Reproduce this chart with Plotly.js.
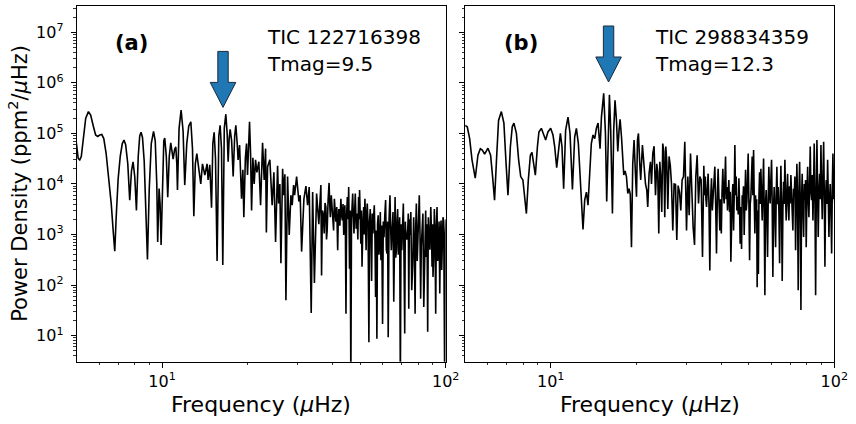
<!DOCTYPE html>
<html>
<head>
<meta charset="utf-8">
<script src="https://cdn.plot.ly/plotly-3.0.1.min.js"></script>
<style>html,body{margin:0;padding:0;background:#fff;}#chart{width:856px;height:424px;}</style>
</head>
<body>
<div id="chart"></div>
<script>
// ---- Panel (a): TIC 122716398 ----
const freqA = [4.92,4.99,5.06,5.125,5.19,5.29,5.38,5.50,5.60,5.72,5.83,5.93,6.03,6.13,6.23,6.35,6.48,6.62,6.73,6.81,6.89,7.00,7.12,7.24,7.34,7.44,7.57,7.69,7.80,7.90,8.01,8.12,8.24,8.34,8.43,8.53,8.65,8.78,8.88,9.01,9.16,9.33,9.46,9.58,9.65,9.76,9.84,9.92,10.04,10.14,10.22,10.35,10.47,10.60,10.73,10.85,10.94,11.07,11.18,11.27,11.33,11.48,11.67,11.86,12.02,12.22,12.42,12.63,12.80,12.94,13.10,13.26,13.47,13.69,13.88,14.15,14.41,14.53,14.73,14.94,15.10,15.26,15.43,15.63,15.85,16.02,16.20,16.37,16.57,16.78,16.96,17.10,17.24,17.38,17.59,17.81,18.03,18.20,18.40,18.54,18.76,19.06,19.27,19.42,19.66,19.85,20.01,20.18,20.34,20.51,20.68,20.90,21.12,21.36,21.59,21.94,22.25,22.61,22.91,23.17,23.32,23.55,23.99,24.44,24.79,25.13,25.54,25.75,26.02,26.24,26.61,26.82,27.10,27.33,27.70,28.07,28.46,28.76,29.09,29.33,29.81,30.37,30.69,31.04,31.63,32.15,32.59,33.02,33.56,33.95,34.44,
35.06,35.4,35.7,36.0,36.3,36.5,36.75,37.0,37.3,37.55,37.8,38.0,38.2,38.5,38.8,39.0,39.2,39.5,39.8,40.0,40.25,40.5,40.75,41.0,41.3,41.6,41.8,42.0,42.35,42.7,42.95,43.2,43.45,43.7,43.9,44.1,44.3,44.5,44.75,45.0,45.25,45.5,45.65,45.8,46.05,46.3,46.55,47.0,47.25,47.5,47.75,48.0,48.35,48.7,49.0,49.3,49.5,49.7,49.95,50.2,50.45,50.7,51.05,51.4,51.65,51.9,52.15,52.4,52.65,52.9,53.25,53.6,53.9,54.2,54.5,54.8,55.1,55.4,55.7,56.0,56.3,56.6,56.9,57.2,57.5,57.8,58.15,58.5,58.8,59.1,59.5,59.9,60.25,60.6,61.0,61.4,61.75,62.1,62.4,62.7,63.15,63.6,63.95,64.3,64.55,64.8,65.2,65.6,65.95,66.3,66.65,67.0,67.35,67.7,68.05,68.4,68.8,69.2,69.6,70.0,70.45,70.9,71.3,71.7,72.05,72.4,72.95,73.5,73.8,74.1,74.45,74.8,75.35,75.9,76.5,77.1,77.55,78.0,78.4,78.8,79.35,79.9,80.3,80.7,81.15,81.6,82.05,82.5,83.1,83.7,84.15,84.6,85.0,85.4,85.9,86.4,86.85,87.3,87.95,88.6,89.05,89.5,89.85,90.2,90.7,91.2,91.7,92.2,92.7,93.2,93.7,94.2,94.75,95.3,95.8,96.3,96.8,97.3,97.85,98.4,98.8,99.2,99.7,100.3];
const powerA = [8.9e4,6.3e4,3.2e4,3.0e4,3.5e4,1.0e5,2.0e5,2.7e5,2.3e5,1.4e5,9.3e4,8.7e4,9.3e4,9.5e4,7.9e4,4.0e4,1.4e4,4.0e3,1.1e3,4.7e2,2.2e3,1.26e4,3.5e4,6.3e4,7.4e4,6.0e4,2.5e4,4.8e3,1.8e4,2.75e4,1.4e4,3.0e3,3.5e4,8.9e4,1.05e5,8.3e4,2.8e4,3.2e3,3.2e2,7.9e3,6.3e4,1.1e5,7.1e4,1.0e4,7.1e2,8.1e3,4.0e3,6.2e2,2.2e4,7.1e4,8.1e4,3.5e4,5.5e3,3.5e4,6.5e4,4.5e4,3.1e4,4.8e4,5.4e4,2.5e4,7.6e3,1.26e5,2.9e5,1.12e5,9.5e3,6.3e4,1.4e5,1.7e5,5.0e4,2.3e3,2.5e4,4.0e4,2.2e4,1.0e4,2.5e4,1.5e4,2.5e4,1.2e4,2.4e4,3.4e3,6.3e4,1.05e5,3.2e4,3.0e2,8.9e4,1.45e5,5.0e4,2.5e2,1.26e5,2.4e5,1.0e5,2.75e4,7.9e4,1.2e5,7.1e4,1.4e4,8.9e4,1.45e5,6.3e4,3.0e4,5.9e4,5.1e3,1.9e4,2.2e3,3.2e4,6.3e4,1.5e4,8.9e4,1.7e5,4.0e4,3.0e3,3.3e4,1.0e4,3.0e4,1.7e4,2.75e4,3.8e3,6.5e4,1.2e4,5.0e4,1.1e3,2.2e4,3.0e4,3.8e3,1.7e4,7.1e2,2.3e4,4.1e3,1.0e4,2.7e2,2.0e4,6.0e3,1.55e4,50,1.4e4,9.8e2,6.0e3,3.8e3,9.5e3,6.0e3,1.4e4,4.5e3,6.0e3,4.6e2,5.1e3,9.1e3,3.8e3,8.7e3,28,6.9e3,1.1e2,
6.5e3,2.5e3,1.6e3,4.0e3,9.5e3,1.55e2,3.0e3,2.6e3,1.05e3,4.2e3,3.5e3,8e2,1.2e3,5e3,1.05e4,4.0e3,2.2e3,6e3,3.2e3,2.2e3,1.2e3,5.1e3,2.8e3,1.8e3,3.5e3,4.9e2,2.0e3,3.2e3,1.5e3,5.1e3,2.4e3,1.9e3,4.0e3,9.8e2,2.2e3,3.8e3,1.2e3,27,2.5e3,5.5e3,2.0e3,8.7e3,1.5e3,2.1e2,3.0e3,1,2.0e3,6.5e3,2.2e3,1.05e3,3.0e3,6.5e3,1.3e3,2.6e3,8e2,5.5e3,2.0e3,7.6e3,2.5e3,6.6e2,3.0e3,2.3e2,1.6e3,3.5e3,1.0e3,5.1e3,2.0e3,4.9e2,2.5e3,4.1e3,1.5e3,7.4,1.8e3,3.2e3,1.1e3,1.2e2,2.6e3,1.05e3,2.2e3,3.8e3,9e2,58,1.2e3,8.7,1.6e3,2.4e3,4e2,6.6e2,2.8e3,3.1e2,1.5e3,17,1.8e3,8.9e2,2.4e3,4.8e3,5e2,4.2e2,1.8e3,9.3,2.0e3,6.0e3,1.4e3,4.9e2,9e2,1.4e3,2.8e3,47,2.0e3,5.5e3,3.5e2,4.9e2,1.9e3,3.2e3,4e2,8.9e2,2.2e3,1,1.6e3,4.9e2,2.2e3,4.1e3,3e2,11,1.8e3,8.9e2,8e2,1.3e3,2.6e3,34,2.0e3,9.8e2,2.8e3,79,2.5e2,2.2e3,6e2,27,1.4e3,4.1e3,3e2,8.9e2,2.4e3,6.0e3,1.1e3,54,6e2,1.05e3,2.6e3,37,3e2,1.5e3,3.0e3,3.6e2,1.6e3,12,2.2e3,1.05e3,5e2,3.5e3,1.2e3,2.3e2,1.6e3,1.45e2,4e2,3.2e3,9e2,27,1.5e3,3.5e3,3e2,4.9e2,1.8e3,68,1.0e3,1.9e3,2e2,7.8e2,2.2e3,1.8e3,3e2,1,1.0e3,2.0e3];

// ---- Panel (b): TIC 298834359 ----
const freqB = [4.89,4.97,5.08,5.18,5.28,5.42,5.54,5.65,5.74,5.85,6.01,6.14,6.24,6.34,6.45,6.55,6.70,6.84,6.96,7.07,7.21,7.32,7.42,7.57,7.71,7.84,7.98,8.09,8.21,8.34,8.48,8.59,8.71,8.83,8.98,9.09,9.27,9.45,9.60,9.78,10.0,10.19,10.33,10.50,10.67,10.82,10.96,11.11,11.29,11.51,11.70,11.93,12.15,12.32,12.52,12.73,13.00,13.18,13.37,13.54,13.72,13.91,14.10,14.30,14.49,14.69,14.93,15.10,15.38,15.60,15.76,15.93,16.11,16.28,16.51,16.68,16.86,17.06,17.24,17.42,17.57,17.77,17.91,18.10,18.29,18.50,18.70,18.89,19.08,19.27,19.47,19.68,19.90,20.07,20.23,20.39,20.61,20.77,21.06,21.29,21.59,21.82,21.99,22.23,22.48,22.67,22.91,23.15,23.42,23.66,23.85,24.05,24.25,24.44,24.64,24.84,25.05,25.25,25.46,25.67,25.88,26.15,26.41,26.67,26.95,27.24,27.55,27.84,28.14,28.46,28.76,29.07,29.40,29.71,30.13,30.45,30.78,31.12,31.45,31.79,32.15,32.49,32.84,33.21,33.56,33.92,34.30,
34.67,34.88,35.09,35.27,35.44,35.67,35.90,36.15,36.40,36.65,36.90,37.15,37.39,37.65,37.91,38.17,38.43,38.7,38.94,39.2,39.48,39.72,39.96,40.2,40.46,40.68,40.89,41.12,41.36,41.58,41.80,42.02,42.24,42.48,42.72,42.95,43.18,43.4,43.64,43.9,44.14,44.38,44.61,44.85,45.08,45.34,45.60,45.85,46.09,46.33,46.56,46.83,47.10,47.35,47.60,47.85,48.11,48.4,48.66,48.92,49.18,49.44,49.70,49.98,50.27,50.53,50.80,51.07,51.34,51.63,51.93,52.2,52.48,52.76,53.04,53.25,53.46,53.72,53.99,54.25,54.52,54.8,55.10,55.4,55.69,56.0,56.32,56.6,56.91,57.2,57.52,57.85,58.17,58.48,58.79,59.1,59.41,59.75,60.09,60.4,60.73,61.05,61.38,61.73,62.09,62.4,62.74,63.07,63.41,63.78,64.14,64.48,64.82,65.16,65.51,65.88,66.25,66.6,66.96,67.3,67.67,68.05,68.44,68.8,69.17,69.53,69.90,70.3,70.70,71.07,71.45,71.83,72.21,72.62,73.03,73.42,73.81,74.2,74.60,75.03,75.46,75.86,76.26,76.66,77.06,77.5,77.95,78.37,78.78,79.2,79.61,80.07,80.53,80.95,81.38,81.8,82.25,82.7,83.18,83.6,84.07,84.5,84.96,85.45,85.93,86.4,86.85,87.3,87.77,88.27,88.77,89.25,89.72,90.2,90.67,91.2,91.71,92.2,92.67,93.15,93.65,94.2,94.73,95.23,95.74,96.24,96.74,97.3,97.86,98.38,98.90,99.42,99.95,100.9];
const powerB = [1.4e5,1.45e5,1.35e5,7.9e4,3.0e4,1.3e4,3.7e4,5.0e4,4.7e4,3.9e4,5.1e4,3.7e4,1.4e4,4.8e3,3.5e4,1.8e5,2.7e5,1.6e5,2.6e4,6.0e3,5.5e4,1.35e5,1.6e5,1.0e5,3.0e4,1.4e4,1.2e4,6.5e3,2.6e3,1.2e4,3.7e4,4.2e4,2.5e4,1.5e4,5.5e4,1.07e5,1.26e5,9.3e4,7.4e4,1.07e5,1.26e5,9.3e4,5.5e4,2.1e4,5.5e4,1.0e5,5.5e4,8.1e3,1.15e5,2.1e5,1.0e5,7.8e3,8.5e4,1.26e5,6.3e4,1.2e4,1.26e3,4.8e3,6.9e3,3.8e3,1.6e4,6.3e4,9.3e4,7.9e4,1.26e5,1.6e5,5.0e4,2.1e5,6.2e5,1.0e5,4.5e3,1.15e5,5.8e5,1.15e5,2.6e3,1.15e5,4.5e5,1.8e5,4.4e4,1.15e5,1.9e5,8.5e4,3.0e4,1.5e4,1.8e4,1.4e4,6.5e3,8.1e3,6.3e3,5.6e2,2.5e4,7.4e4,1.6e4,5.6e3,7.4e4,1.0e5,2.5e4,1.2e4,5.9e4,2.2e4,1.0e4,7.6e3,3.5e3,1.6e4,2.75e4,1.0e4,4.0e4,5.6e4,6.0e3,2.5e4,1.7e4,1.05e3,2.75e4,1.4e4,2.8e3,6.3e4,4.4e4,2.2e3,5.5e4,2.75e4,3.2e3,3.5e4,2.3e4,1.0e4,1.2e3,1.0e4,9.8e3,7.8e2,9.3e3,6.9e3,3.0e3,1.2e4,1.4e4,6.8e4,1.2e3,1.4e4,2.4e3,4.0e4,4.8e3,1.4e3,6.2e2,1.4e4,3.7e4,4.1e3,1.4e4,1.2e4,3.6e2,
2.3e4,6e3,1.4e4,5e3,3.5e3,8e3,1.6e4,4e3,1.95e2,5e3,1.3e4,3e3,5.6e3,9e3,2.2e4,4e3,4.2e2,6e3,2.0e4,5e3,1.2e3,5e3,1.05e3,7e3,2.0e4,6e3,4.1e3,1.1e4,3.5e4,5e3,8.7e3,3e3,7.6e3,1.2e4,2.8e3,7e3,2.9e2,4e3,5.6e3,1.0e4,1.2e3,6e3,5.9e4,6e3,1.4e4,3e3,5.6e3,2.5e3,1.3e4,4e3,6.6e2,3.5e3,5.2e2,6e3,4.1e3,9e3,9.8e2,5e3,1.9e4,3e3,4.5e3,1.2e4,4.0e4,5e3,3.1e2,4e3,5.6e3,1.4e4,3.5e4,6e3,4.7e4,5e3,1.05e3,6e3,1.9e3,5e3,91,3e3,1.66e2,6e3,1.7e4,4e3,2.0e4,6e3,1.9e3,8e3,3.2e4,3e3,63,4e3,7.6e3,2.2e3,3.6e2,5e3,2.2e4,6e3,4.1e3,1.2e4,3.0e4,4e3,1.45e2,3e3,8.7e3,2.5e3,5.6e2,6e3,2.2e4,4e3,8.7e3,3e3,2.7e2,5e3,2.3e4,4e3,1.2e2,3e3,1.1e4,4e3,3.0e4,6e3,1.9e3,7e3,1.6e4,4e3,1.9e3,9e3,4.1e3,1.5e4,7.6e3,2.5e3,1.2e3,8e3,5.6e3,1.4e4,4.9e2,5e3,2.5e4,5e3,79,6e3,2.75e4,4e3,32,5e3,1.6e4,3e3,8.9e2,1.0e4,4.8e3,1.2e4,5.6e2,6e3,2.2e4,5e3,2.2e3,9e3,5.5e4,7e3,4.8e3,1.5e4,1.9e3,8e3,6.3e4,5e3,63,6e3,7.4e4,8e3,8.9e2,7e3,1.6e4,5e3,5.9e4,8e3,2.0e3,1.2e4,6.8e4,6e3,2.3e2,5e3,1.2e4,4e3,3.0e4,6e3,8.9e2,5e3,1.0e4,3e3,4.2e2,8e3,4.0e4,5e3,8.7e3,1.6e3];

// ---- Texts / ticks ----
const panelLabels = ['(a)', '(b)'];
const ticNames = ['TIC 122716398', 'TIC 298834359'];
const tmagTexts = ['Tmag=9.5', 'Tmag=12.3'];
const xTickVals = [10, 100];
const xTickText = ['10<sup>1</sup>', '10<sup>2</sup>'];
const yTickVals = [10, 100, 1e3, 1e4, 1e5, 1e6, 1e7];
const yTickText = ['10<sup>1</sup>','10<sup>2</sup>','10<sup>3</sup>','10<sup>4</sup>','10<sup>5</sup>','10<sup>6</sup>','10<sup>7</sup>'];
const xMinorVals = [6,7,8,9,20,30,40,50,60,70,80,90];
const yMinorVals = [];
for (let e = 0; e <= 7; e++) for (let m = 2; m <= 9; m++) yMinorVals.push(m * Math.pow(10, e));
const arrowFreq = [16.4, 16.0];
const arrowTip = [3.27e5, 1.04e6];

// ---- Geometry ----
const W = 856, H = 424;
const xDomA = [76.7 / W, 445.7 / W];
const xDomB = [465.3 / W, 834.3 / W];
const yDom = [1 - 361.7 / H, 1 - 6 / H];
const xRange = [Math.log10(5), 2];
const yRange = [0.485, 7.52];
const FONT = 'DejaVu Sans, sans-serif';

function xAxis(dom, anchor) {
  return {
    type: 'log', domain: dom, range: xRange, anchor: anchor,
    showline: true, mirror: true, linecolor: 'black', linewidth: 1,
    showgrid: false, zeroline: false,
    ticks: 'outside', ticklen: 5, tickwidth: 1, tickcolor: 'black',
    tickmode: 'array', tickvals: xTickVals, ticktext: xTickText,
    tickfont: {family: FONT, size: 16, color: 'black'},
    minor: {tickmode: 'array', tickvals: xMinorVals, ticks: 'outside', ticklen: 2.5, tickwidth: 0.8, tickcolor: 'black', showgrid: false}
  };
}
function yAxis(anchor, labels) {
  return {
    type: 'log', domain: yDom, range: yRange, anchor: anchor,
    showline: true, mirror: true, linecolor: 'black', linewidth: 1,
    showgrid: false, zeroline: false,
    ticks: 'outside', ticklen: 5, tickwidth: 1, tickcolor: 'black',
    tickmode: 'array', tickvals: yTickVals, ticktext: yTickText,
    showticklabels: labels, ticklabelstandoff: 4,
    tickfont: {family: FONT, size: 16, color: 'black'},
    minor: {tickmode: 'array', tickvals: yMinorVals, ticks: 'outside', ticklen: 2.5, tickwidth: 0.8, tickcolor: 'black', showgrid: false}
  };
}

function toPaper(dom, f, p) {
  const xp = dom[0] + (Math.log10(f) - xRange[0]) / (xRange[1] - xRange[0]) * (dom[1] - dom[0]);
  const yp = yDom[0] + (Math.log10(p) - yRange[0]) / (yRange[1] - yRange[0]) * (yDom[1] - yDom[0]);
  return [xp, yp];
}
function arrowPath(dom, f, p) {
  const [x, y] = toPaper(dom, f, p);
  const bw = 5.2 / W, hw = 12.8 / W;
  const base = y + 25 / H, top = y + 56 / H;
  return `M ${x - bw},${top} L ${x + bw},${top} L ${x + bw},${base} L ${x + hw},${base} L ${x},${y} L ${x - hw},${base} L ${x - bw},${base} Z`;
}

const traces = [
  {x: freqA, y: powerA, xaxis: 'x', yaxis: 'y', type: 'scatter', mode: 'lines', line: {color: 'black', width: 1.6}, hoverinfo: 'skip'},
  {x: freqB, y: powerB, xaxis: 'x2', yaxis: 'y2', type: 'scatter', mode: 'lines', line: {color: 'black', width: 1.6}, hoverinfo: 'skip'}
];

const doms = [xDomA, xDomB];
const annotations = [];
doms.forEach((d, i) => {
  const x0 = d[0];
  annotations.push({xref: 'paper', yref: 'paper', x: x0 + (i === 0 ? 54.5 : 55.5) / W, y: 1 - 43 / H, text: '<b>' + panelLabels[i] + '</b>', showarrow: false, xanchor: 'center', yanchor: 'middle', font: {family: FONT, size: 21, color: 'black'}});
  annotations.push({xref: 'paper', yref: 'paper', x: x0 + 188 / W, y: 1 - 37 / H, text: ticNames[i], showarrow: false, xanchor: 'left', yanchor: 'middle', font: {family: FONT, size: 20, color: 'black'}});
  annotations.push({xref: 'paper', yref: 'paper', x: x0 + 188 / W, y: 1 - 64 / H, text: tmagTexts[i], showarrow: false, xanchor: 'left', yanchor: 'middle', font: {family: FONT, size: 20, color: 'black'}});
  annotations.push({xref: 'paper', yref: 'paper', x: (d[0] + d[1]) / 2, y: 1 - 404 / H, text: 'Frequency (<i>μ</i>Hz)', showarrow: false, xanchor: 'center', yanchor: 'middle', font: {family: FONT, size: 22, color: 'black'}});
});
annotations.push({xref: 'paper', yref: 'paper', x: 18 / W, y: (yDom[0] + yDom[1]) / 2, text: 'Power Density (ppm<sup>2</sup>/<i>μ</i>Hz)', textangle: -90, showarrow: false, xanchor: 'center', yanchor: 'middle', font: {family: FONT, size: 21, color: 'black'}});

const shapes = doms.map((d, i) => ({
  type: 'path', xref: 'paper', yref: 'paper', path: arrowPath(d, arrowFreq[i], arrowTip[i]),
  fillcolor: '#1f77b4', line: {color: '#1b2a3a', width: 1}, layer: 'above'
}));

const layout = {
  width: W, height: H,
  margin: {l: 0, r: 0, t: 0, b: 0},
  paper_bgcolor: 'white', plot_bgcolor: 'white',
  showlegend: false,
  font: {family: FONT, color: 'black'},
  xaxis: xAxis(xDomA, 'y'),
  yaxis: yAxis('x', true),
  xaxis2: xAxis(xDomB, 'y2'),
  yaxis2: yAxis('x2', false),
  annotations: annotations,
  shapes: shapes
};

Plotly.newPlot('chart', traces, layout, {staticPlot: true, displayModeBar: false});
</script>
</body>
</html>
